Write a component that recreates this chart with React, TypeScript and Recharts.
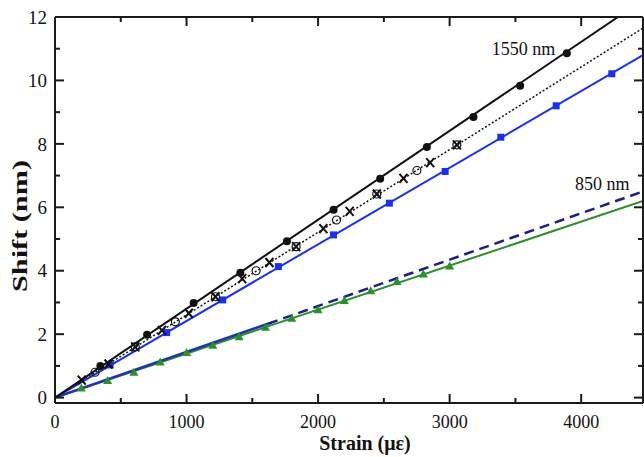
import {
  ComposedChart,
  Line,
  XAxis,
  YAxis,
  Label,
  ReferenceDot,
} from "recharts";

// 1550 nm – measured (filled circles) and fit line
const circleStrain = [345, 700, 1054, 1409, 1763, 2118, 2472, 2827, 3181, 3536, 3891];
const circleShift = [1.0, 1.98, 2.98, 3.94, 4.93, 5.92, 6.9, 7.9, 8.85, 9.83, 10.86];
const blackFitStrain = [0, 4280];
const blackFitShift = [0, 12];

// dotted series: crosses and open circles
const crossStrain = [203, 407, 610, 813, 1017, 1220, 1423, 1630, 1833, 2040, 2240, 2446, 2649, 2852, 3055];
const crossShift = [0.55, 1.06, 1.6, 2.12, 2.66, 3.18, 3.75, 4.26, 4.76, 5.33, 5.87, 6.42, 6.91, 7.41, 7.97];
const openStrain = [305, 610, 915, 1220, 1529, 1833, 2140, 2446, 2751, 3055];
const openShift = [0.8, 1.6, 2.39, 3.18, 4.0, 4.76, 5.6, 6.42, 7.16, 7.97];
const dottedStrain = [0, 4470];
const dottedShift = [0, 11.65];

// blue squares
const squareStrain = [419, 849, 1275, 1698, 2117, 2542, 2966, 3389, 3810, 4233];
const squareShift = [1.03, 2.05, 3.08, 4.13, 5.13, 6.13, 7.13, 8.21, 9.2, 10.21];
const blueFitStrain = [0, 4470];
const blueFitShift = [0, 10.8];

// 850 nm – green triangles, navy solid + dashed
const triStrain = [200, 400, 600, 800, 1000, 1200, 1400, 1600, 1800, 2000, 2200, 2400, 2600, 2800, 3000];
const triShift = [0.3, 0.54, 0.8, 1.12, 1.42, 1.65, 1.92, 2.22, 2.5, 2.77, 3.06, 3.37, 3.66, 3.9, 4.15];
const greenFitStrain = [0, 4470];
const greenFitShift = [0, 6.2];
const navySolidStrain = [0, 1620];
const navySolidShift = [0, 2.33];
const navyDashStrain = [1620, 4470];
const navyDashShift = [2.33, 6.5];

const xTicks = [0, 500, 1000, 1500, 2000, 2500, 3000, 3500, 4000];
const yTicks = [0, 1, 2, 3, 4, 5, 6, 7, 8, 9, 10, 11, 12];

const toPts = (xs: number[], ys: number[]) => xs.map((x, i) => ({ x, y: ys[i] }));

const FONT = '"Liberation Serif", "Times New Roman", serif';
const AX = "#1a1a1a";

const BLACK = "#111111";
const BLUE = "#1b2ff0";
const GREEN = "#2b8f2b";
const NAVY = "#1c1c8c";
const NAVY2 = "#2233b0";

function LeftTick(props: any) {
  const { x, y, payload } = props;
  const v = payload.value;
  const major = v % 2 === 0;
  const ax = x + 8;
  return (
    <g>
      <line x1={ax} x2={ax + (major ? 9 : 5)} y1={y} y2={y} stroke={AX} strokeWidth={2} />
      {major && (
        <text x={x} y={y} dy="0.35em" textAnchor="end" fontFamily={FONT} fontSize={19} fill="#111">
          {v}
        </text>
      )}
    </g>
  );
}

function BottomTick(props: any) {
  const { x, y, payload } = props;
  const v = payload.value;
  const major = v % 1000 === 0;
  const ay = y - 12;
  return (
    <g>
      <line x1={x} x2={x} y1={ay} y2={ay - (major ? 9 : 5)} stroke={AX} strokeWidth={2} />
      {major && (
        <text x={x} y={y} dy="0.71em" textAnchor="middle" fontFamily={FONT} fontSize={18} fill="#111">
          {v}
        </text>
      )}
    </g>
  );
}

function TopTick(props: any) {
  const { x, y, payload } = props;
  const major = payload.value % 1000 === 0;
  return <line x1={x} x2={x} y1={y} y2={y + (major ? 9 : 5)} stroke={AX} strokeWidth={2} />;
}

function RightTick(props: any) {
  const { x, y, payload } = props;
  const major = payload.value % 2 === 0;
  return <line x1={x} x2={x - (major ? 9 : 5)} y1={y} y2={y} stroke={AX} strokeWidth={2} />;
}

const filledCircle = (p: any) => (
  <circle key={`fc-${p.index}`} cx={p.cx} cy={p.cy} r={4} fill={BLACK} stroke="none" />
);
const openCircle = (p: any) => (
  <circle key={`oc-${p.index}`} cx={p.cx} cy={p.cy} r={4} fill="none" stroke={BLACK} strokeWidth={1.2} />
);
const cross = (p: any) => (
  <path
    key={`cr-${p.index}`}
    d={`M${p.cx - 4},${p.cy - 4.5}L${p.cx + 4},${p.cy + 4.5}M${p.cx - 4},${p.cy + 4.5}L${p.cx + 4},${p.cy - 4.5}`}
    stroke={BLACK}
    strokeWidth={2}
    fill="none"
  />
);
const square = (p: any) => (
  <rect key={`sq-${p.index}`} x={p.cx - 3.5} y={p.cy - 3.5} width={7} height={7} fill={BLUE} />
);
const triangle = (p: any) => (
  <path
    key={`tr-${p.index}`}
    d={`M${p.cx},${p.cy - 4.5}L${p.cx + 4.5},${p.cy + 3.5}L${p.cx - 4.5},${p.cy + 3.5}Z`}
    fill={GREEN}
  />
);

const noteText = (value: string) => (p: any) => (
  <text x={p.cx} y={p.cy} fontFamily={FONT} fontSize={18} fill="#111">
    {value}
  </text>
);

export default function App() {
  return (
    <div style={{ position: "absolute", left: 0, top: 0, background: "#fff" }}>
      <ComposedChart width={644} height={457} margin={{ top: 0, right: 0, bottom: 0, left: 0 }}>
        <XAxis
          xAxisId="bottom"
          type="number"
          dataKey="x"
          domain={[0, 4470]}
          ticks={xTicks}
          interval={0}
          height={54}
          tickSize={0}
          tickMargin={12}
          tickLine={false}
          tick={BottomTick}
          axisLine={{ stroke: AX, strokeWidth: 2 }}
          allowDataOverflow
        >
          <Label
            content={() => (
              <text x={365} y={450} textAnchor="middle" fontFamily={FONT} fontSize={20} fontWeight="bold" fill="#111">
                Strain (με)
              </text>
            )}
          />
        </XAxis>
        <XAxis
          xAxisId="top"
          orientation="top"
          type="number"
          dataKey="x"
          domain={[0, 4470]}
          ticks={xTicks}
          interval={0}
          height={17}
          tickSize={0}
          tickMargin={0}
          tickLine={false}
          tick={TopTick}
          axisLine={{ stroke: AX, strokeWidth: 2 }}
          allowDataOverflow
        />
        <YAxis
          yAxisId="left"
          type="number"
          domain={[-0.17, 12]}
          ticks={yTicks}
          interval={0}
          width={55}
          tickSize={0}
          tickMargin={8}
          tickLine={false}
          tick={LeftTick}
          axisLine={{ stroke: AX, strokeWidth: 2 }}
          allowDataOverflow
        >
          <Label
            content={() => (
              <text
                x={27}
                y={226}
                transform="rotate(-90, 27, 226)"
                textAnchor="middle"
                fontFamily={FONT}
                fontSize={21}
                fontWeight="bold"
                fill="#111"
                textLength={132}
                lengthAdjust="spacingAndGlyphs"
              >
                Shift (nm)
              </text>
            )}
          />
        </YAxis>
        <YAxis
          yAxisId="right"
          orientation="right"
          type="number"
          domain={[-0.17, 12]}
          ticks={yTicks}
          interval={0}
          width={1}
          tickSize={0}
          tickMargin={0}
          tickLine={false}
          tick={RightTick}
          axisLine={{ stroke: AX, strokeWidth: 2 }}
          allowDataOverflow
        />

        {/* fit lines */}
        <Line xAxisId="bottom" yAxisId="left" data={toPts(greenFitStrain, greenFitShift)} dataKey="y" stroke={GREEN} strokeWidth={2} dot={false} isAnimationActive={false} />
        <Line xAxisId="bottom" yAxisId="left" data={toPts(triStrain, triShift)} dataKey="y" stroke="none" dot={triangle} isAnimationActive={false} />
        <Line xAxisId="bottom" yAxisId="left" data={toPts(navyDashStrain, navyDashShift)} dataKey="y" stroke={NAVY} strokeWidth={2.5} strokeDasharray="10 6" dot={false} isAnimationActive={false} />
        <Line xAxisId="bottom" yAxisId="left" data={toPts(navySolidStrain, navySolidShift)} dataKey="y" stroke={NAVY2} strokeWidth={2.5} dot={false} isAnimationActive={false} />

        <Line xAxisId="bottom" yAxisId="left" data={toPts(blueFitStrain, blueFitShift)} dataKey="y" stroke={BLUE} strokeWidth={2} dot={false} isAnimationActive={false} />
        <Line xAxisId="bottom" yAxisId="left" data={toPts(squareStrain, squareShift)} dataKey="y" stroke="none" dot={square} isAnimationActive={false} />

        <Line xAxisId="bottom" yAxisId="left" data={toPts(dottedStrain, dottedShift)} dataKey="y" stroke={BLACK} strokeWidth={1.5} strokeDasharray="2 2" dot={false} isAnimationActive={false} />
        <Line xAxisId="bottom" yAxisId="left" data={toPts(openStrain, openShift)} dataKey="y" stroke="none" dot={openCircle} isAnimationActive={false} />
        <Line xAxisId="bottom" yAxisId="left" data={toPts(crossStrain, crossShift)} dataKey="y" stroke="none" dot={cross} isAnimationActive={false} />

        <Line xAxisId="bottom" yAxisId="left" data={toPts(blackFitStrain, blackFitShift)} dataKey="y" stroke={BLACK} strokeWidth={2} dot={false} isAnimationActive={false} />
        <Line xAxisId="bottom" yAxisId="left" data={toPts(circleStrain, circleShift)} dataKey="y" stroke="none" dot={filledCircle} isAnimationActive={false} />

        <ReferenceDot xAxisId="bottom" yAxisId="left" x={3321} y={10.81} r={0} shape={noteText("1550 nm")} />
        <ReferenceDot xAxisId="bottom" yAxisId="left" x={3954} y={6.55} r={0} shape={noteText("850 nm")} />
      </ComposedChart>
    </div>
  );
}
